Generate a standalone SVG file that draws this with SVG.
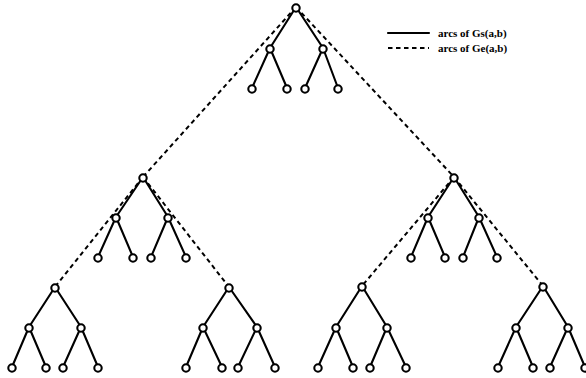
<svg xmlns="http://www.w3.org/2000/svg" width="586" height="378" viewBox="0 0 586 378">
<style>
.e{stroke:#000;stroke-width:2.1;fill:none;stroke-linecap:round}
.d{stroke:#000;stroke-width:2;fill:none;stroke-dasharray:4.5,3.5}
.n circle{fill:#fff;stroke:#000;stroke-width:2.1}
.t{font-family:"Liberation Serif",serif;font-weight:bold;font-size:11px;fill:#000}
</style>
<rect width="586" height="378" fill="#fff"/>
<g id="connectors">
<line class="d" x1="296" y1="7" x2="143" y2="177"/>
<line class="d" x1="296" y1="7" x2="454" y2="177"/>
<line class="d" x1="143" y1="177" x2="55" y2="287"/>
<line class="d" x1="143" y1="177" x2="229" y2="287"/>
<line class="d" x1="454" y1="177" x2="362" y2="286"/>
<line class="d" x1="454" y1="177" x2="543" y2="286"/>
<path class="e" d="M296 7L270 48M296 7L323 48M270 48L252 88M270 48L287 88M323 48L305 88M323 48L338 88"/>
<path class="e" d="M143 177L116 217M143 177L168 217M116 217L98 257M116 217L133 257M168 217L151 257M168 217L186 257"/>
<path class="e" d="M454 177L428 217M454 177L479 217M428 217L411 257M428 217L445 257M479 217L463 257M479 217L497 257"/>
<path class="e" d="M55 287L29 327M55 287L81 327M29 327L12 367M29 327L46 367M81 327L63 367M81 327L98 367"/>
<path class="e" d="M229 287L203 327M229 287L257 327M203 327L186 367M203 327L222 367M257 327L238 367M257 327L275 367"/>
<path class="e" d="M362 286L336 327M362 286L387 327M336 327L318 367M336 327L353 367M387 327L370 367M387 327L406 367"/>
<path class="e" d="M543 286L516 327M543 286L568 327M516 327L498 367M516 327L533 367M568 327L550 367M568 327L585 367"/>
</g>
<g id="tree-top" class="n">
<g id="t0"><circle cx="296" cy="8" r="3.7"/></g>
<g id="t1"><circle cx="270" cy="49" r="3.7"/></g>
<g id="t2"><circle cx="323" cy="49" r="3.7"/></g>
<g id="t3"><circle cx="252" cy="89" r="3.7"/></g>
<g id="t4"><circle cx="287" cy="89" r="3.7"/></g>
<g id="t5"><circle cx="305" cy="89" r="3.7"/></g>
<g id="t6"><circle cx="338" cy="89" r="3.7"/></g>
</g>
<g id="tree-midleft" class="n">
<g id="ml0"><circle cx="143" cy="178" r="3.7"/></g>
<g id="ml1"><circle cx="116" cy="218" r="3.7"/></g>
<g id="ml2"><circle cx="168" cy="218" r="3.7"/></g>
<g id="ml3"><circle cx="98" cy="258" r="3.7"/></g>
<g id="ml4"><circle cx="133" cy="258" r="3.7"/></g>
<g id="ml5"><circle cx="151" cy="258" r="3.7"/></g>
<g id="ml6"><circle cx="186" cy="258" r="3.7"/></g>
</g>
<g id="tree-midright" class="n">
<g id="mr0"><circle cx="454" cy="178" r="3.7"/></g>
<g id="mr1"><circle cx="428" cy="218" r="3.7"/></g>
<g id="mr2"><circle cx="479" cy="218" r="3.7"/></g>
<g id="mr3"><circle cx="411" cy="258" r="3.7"/></g>
<g id="mr4"><circle cx="445" cy="258" r="3.7"/></g>
<g id="mr5"><circle cx="463" cy="258" r="3.7"/></g>
<g id="mr6"><circle cx="497" cy="258" r="3.7"/></g>
</g>
<g id="tree-b1" class="n">
<g id="b10"><circle cx="55" cy="288" r="3.7"/></g>
<g id="b11"><circle cx="29" cy="328" r="3.7"/></g>
<g id="b12"><circle cx="81" cy="328" r="3.7"/></g>
<g id="b13"><circle cx="12" cy="368" r="3.7"/></g>
<g id="b14"><circle cx="46" cy="368" r="3.7"/></g>
<g id="b15"><circle cx="63" cy="368" r="3.7"/></g>
<g id="b16"><circle cx="98" cy="368" r="3.7"/></g>
</g>
<g id="tree-b2" class="n">
<g id="b20"><circle cx="229" cy="288" r="3.7"/></g>
<g id="b21"><circle cx="203" cy="328" r="3.7"/></g>
<g id="b22"><circle cx="257" cy="328" r="3.7"/></g>
<g id="b23"><circle cx="186" cy="368" r="3.7"/></g>
<g id="b24"><circle cx="222" cy="368" r="3.7"/></g>
<g id="b25"><circle cx="238" cy="368" r="3.7"/></g>
<g id="b26"><circle cx="275" cy="368" r="3.7"/></g>
</g>
<g id="tree-b3" class="n">
<g id="b30"><circle cx="362" cy="287" r="3.7"/></g>
<g id="b31"><circle cx="336" cy="328" r="3.7"/></g>
<g id="b32"><circle cx="387" cy="328" r="3.7"/></g>
<g id="b33"><circle cx="318" cy="368" r="3.7"/></g>
<g id="b34"><circle cx="353" cy="368" r="3.7"/></g>
<g id="b35"><circle cx="370" cy="368" r="3.7"/></g>
<g id="b36"><circle cx="406" cy="368" r="3.7"/></g>
</g>
<g id="tree-b4" class="n">
<g id="b40"><circle cx="543" cy="287" r="3.7"/></g>
<g id="b41"><circle cx="516" cy="328" r="3.7"/></g>
<g id="b42"><circle cx="568" cy="328" r="3.7"/></g>
<g id="b43"><circle cx="498" cy="368" r="3.7"/></g>
<g id="b44"><circle cx="533" cy="368" r="3.7"/></g>
<g id="b45"><circle cx="550" cy="368" r="3.7"/></g>
<g id="b46"><circle cx="585" cy="368" r="3.7"/></g>
</g>
<g id="legend">
<line class="e" x1="388" y1="33" x2="429" y2="33"/>
<line class="d" x1="388" y1="48" x2="429" y2="48"/>
<text class="t" x="438" y="37">arcs of Gs(a,b)</text>
<text class="t" x="438" y="52">arcs of Ge(a,b)</text>
</g>
</svg>
